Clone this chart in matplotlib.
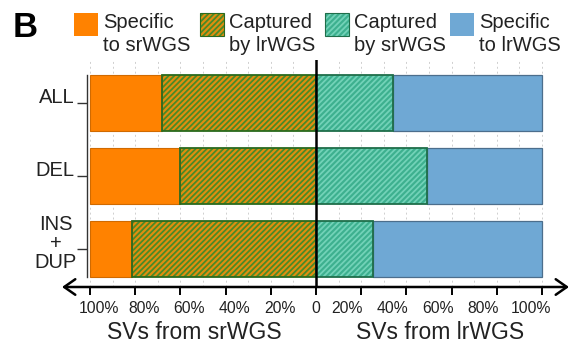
import matplotlib
matplotlib.use("Agg")
import matplotlib.pyplot as plt
from matplotlib.patches import Rectangle

plt.rcParams['font.family'] = ['Liberation Sans', 'DejaVu Sans']
plt.rcParams['hatch.linewidth'] = 1.3

# ---- data -------------------------------------------------------------
categories = ["ALL", "DEL", "INS\n+\nDUP"]
sr_specific = [32, 40, 18.5]        # % of srWGS SVs specific to srWGS
sr_captured = [68, 60, 81.5]        # % of srWGS SVs captured by lrWGS
lr_captured = [34, 49, 25]          # % of lrWGS SVs captured by srWGS
lr_specific = [66, 51, 75]          # % of lrWGS SVs specific to lrWGS
tick_values = [-100, -80, -60, -40, -20, 0, 20, 40, 60, 80, 100]
tick_labels = ["100%", "80%", "60%", "40%", "20%", "0",
               "20%", "40%", "60%", "80%", "100%"]
legend_labels = ["Specific\nto srWGS", "Captured\nby lrWGS",
                 "Captured\nby srWGS", "Specific\nto lrWGS"]
side_titles = ["SVs from srWGS", "SVs from lrWGS"]

# ---- styles -----------------------------------------------------------
ORANGE = "#FF8200"
OLIVE_FACE, OLIVE_HATCH, OLIVE_EDGE = "#E08E10", "#4A8A26", "#2A6A1E"
TEAL_FACE, TEAL_HATCH, TEAL_EDGE = "#3DB08F", "#72D2B8", "#1F6E4A"
BLUE, BLUE_EDGE = "#6FA8D4", "#4C6E8C"
HATCH = "//////"
styles = [
    dict(face=ORANGE, hatch=None, hcol=None, edge="#D06A00", lw=0.8),
    dict(face=OLIVE_FACE, hatch=HATCH, hcol=OLIVE_HATCH, edge=OLIVE_EDGE, lw=1.3),
    dict(face=TEAL_FACE, hatch=HATCH, hcol=TEAL_HATCH, edge=TEAL_EDGE, lw=1.3),
    dict(face=BLUE, hatch=None, hcol=None, edge=BLUE_EDGE, lw=0.9),
]

W, H, DPI = 570, 343, 100
fig = plt.figure(figsize=(W / DPI, H / DPI), dpi=DPI)


def fx(px):
    return px / W


def fy(py):
    return 1 - py / H


ax = fig.add_axes([fx(62), fy(287), fx(569) - fx(62), fy(60) - fy(287)])
ax.set_xlim(-112.4, 111.9)
ax.set_ylim(2.529, -0.591)

ypos = list(range(len(categories)))
BAR_H = 0.77


def hbar(y, width, left, st):
    if st["hatch"]:
        ax.barh(y, width, left=left, height=BAR_H, color=st["face"],
                edgecolor=st["hcol"], hatch=st["hatch"], linewidth=0, zorder=2)
        ax.barh(y, width, left=left, height=BAR_H, fill=False,
                edgecolor=st["edge"], linewidth=st["lw"], zorder=3)
    else:
        ax.barh(y, width, left=left, height=BAR_H, color=st["face"],
                edgecolor=st["edge"], linewidth=st["lw"], zorder=2)


neg_cap = [-v for v in sr_captured]
neg_spec = [-v for v in sr_specific]
hbar(ypos, neg_cap, 0, styles[1])
hbar(ypos, neg_spec, neg_cap, styles[0])
hbar(ypos, lr_captured, 0, styles[2])
hbar(ypos, lr_specific, lr_captured, styles[3])

# centre line
ax.axvline(0, color="black", lw=1.8, zorder=5)

# light dashed grid every 10%
ax.set_xticks(range(-100, 101, 10), minor=True)
ax.grid(axis="x", which="both", color="#cfcfcf", lw=0.7, ls=(0, (2, 3)), zorder=0)
ax.tick_params(axis="x", which="minor", length=0)

# bottom axis with ticks, arrows drawn separately
for s in ("top", "right", "bottom"):
    ax.spines[s].set_visible(False)
ax.set_xticks(tick_values, labels=[""] * len(tick_values))
ax.tick_params(axis="x", which="major", direction="out", length=5.5,
               width=1.4, color="black", pad=0)
ax.annotate("", xy=(1, 0), xytext=(0, 0), xycoords="axes fraction",
            arrowprops=dict(arrowstyle="<->,head_length=0.4,head_width=0.28",
                            lw=1.8, color="black", shrinkA=0, shrinkB=0,
                            mutation_scale=20), zorder=6)

for val, lab in zip(tick_values, tick_labels):
    dx = 0 if val == 0 else (9 if val < 0 else (-11 if val == 100 else -14))
    ax.annotate(lab, xy=(val, 0), xycoords=("data", "axes fraction"),
                xytext=(dx, -26), textcoords="offset pixels",
                ha="center", va="baseline", fontsize=11.3, color="#222222")

for xc, title in zip([-54, 55], side_titles):
    ax.annotate(title, xy=(xc, 0), xycoords=("data", "axes fraction"),
                xytext=(0, -52), textcoords="offset pixels",
                ha="center", va="baseline", fontsize=16.5, color="#222222")

# left spine spanning the bars, with category ticks
ax.spines["left"].set_position(("data", -101.3))
ax.spines["left"].set_bounds(-BAR_H / 2, ypos[-1] + BAR_H / 2)
ax.spines["left"].set_linewidth(1.0)
ax.spines["left"].set_color("#333333")
ax.set_yticks(ypos, labels=[""] * len(ypos))
ax.tick_params(axis="y", direction="out", length=7, width=1.0, color="#333333")

for y, cat in zip(ypos, categories):
    if "\n" in cat:
        ax.annotate(cat, xy=(-101.3, y), xycoords="data", xytext=(-10, 34),
                    textcoords="offset pixels", ha="right", va="top",
                    multialignment="center", linespacing=1.0,
                    fontsize=14.5, color="#222222")
    else:
        ax.annotate(cat, xy=(-101.3, y), xycoords="data", xytext=(-13, 0),
                    textcoords="offset pixels", ha="right", va="baseline",
                    fontsize=14.5, color="#222222")

# legend row across the top
legend_x = [74, 200, 325, 450]
for lx, lab, st in zip(legend_x, legend_labels, styles):
    kw = dict(transform=fig.transFigure, facecolor=st["face"])
    if st["hatch"]:
        fig.add_artist(Rectangle((fx(lx), fy(36)), fx(24), fy(13) - fy(36),
                                 edgecolor=st["hcol"], hatch=st["hatch"],
                                 linewidth=0, **kw))
        fig.add_artist(Rectangle((fx(lx), fy(36)), fx(24), fy(13) - fy(36),
                                 transform=fig.transFigure, fill=False,
                                 edgecolor=st["edge"], linewidth=0.8))
    else:
        fig.add_artist(Rectangle((fx(lx), fy(36)), fx(24), fy(13) - fy(36),
                                 edgecolor="none", **kw))
    fig.text(fx(lx + 29), fy(12.5), lab, ha="left", va="top",
             fontsize=14.5, linespacing=1.29, color="#222222")

fig.text(fx(13), fy(11), "B", ha="left", va="top", fontsize=25,
         fontweight="bold", color="black")

fig.savefig("out.png", dpi=DPI)
